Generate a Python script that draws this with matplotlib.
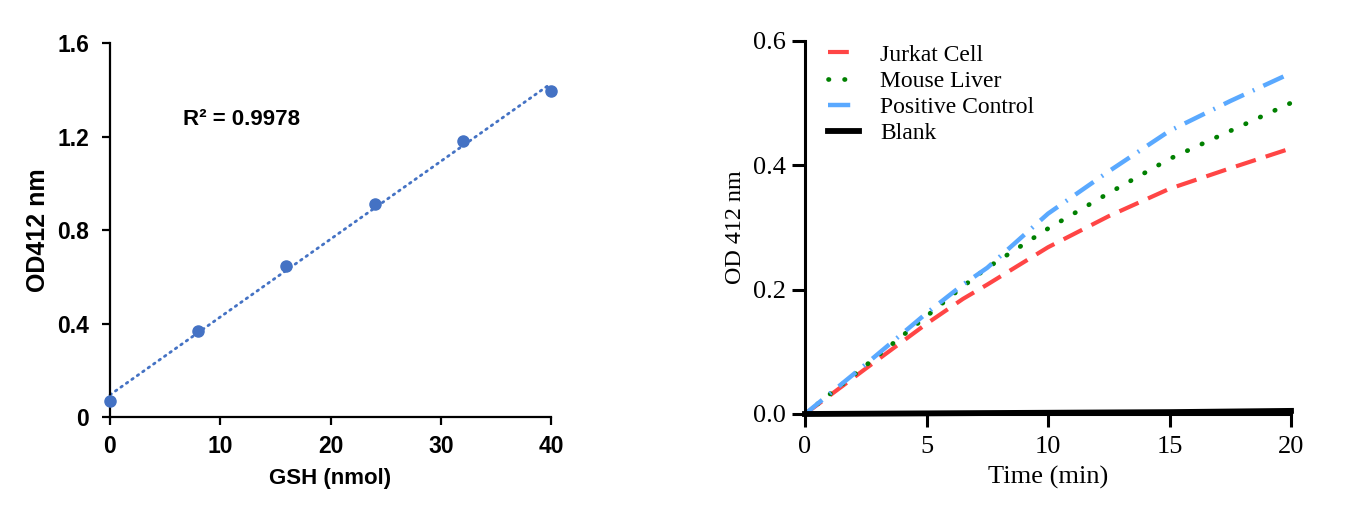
import numpy as np
import matplotlib
matplotlib.use("Agg")
import matplotlib.pyplot as plt
from matplotlib import font_manager as fm

# ---- Left panel data (GSH standard curve) ----
gsh_nmol = [0, 8, 16, 24, 32, 40]
od412_std = [0.068, 0.37, 0.645, 0.91, 1.18, 1.395]
r2_text = "R² = 0.9978"
left_yticks = [0, 0.4, 0.8, 1.2, 1.6]
left_yticklabels = ["0", "0.4", "0.8", "1.2", "1.6"]
left_xticks = [0, 10, 20, 30, 40]

# ---- Right panel data (kinetics) ----
time_min = [0, 2.5, 5, 6.5, 7.5, 10, 12.5, 15, 17.5, 20]
jurkat = [0, 0.073, 0.145, 0.185, 0.208, 0.268, 0.318, 0.362, 0.395, 0.427]
mouse_liver = [0, 0.078, 0.157, 0.205, 0.235, 0.298, 0.355, 0.41, 0.455, 0.5]
positive_ctrl = [0, 0.08, 0.162, 0.208, 0.235, 0.322, 0.39, 0.455, 0.503, 0.548]
blank = [0, 0.0005, 0.001, 0.0013, 0.0015, 0.002, 0.0025, 0.003, 0.004, 0.005]
right_yticks = [0.0, 0.2, 0.4, 0.6]
right_xticks = [0, 5, 10, 15, 20]


def find_font(filename, fallback_family, weight="normal"):
    for f in fm.fontManager.ttflist:
        if f.fname.endswith(filename):
            return {"fname": f.fname}
    return {"family": fallback_family, "weight": weight}


sans_bold_spec = find_font("LiberationSans-Bold.ttf", "Liberation Sans", "bold")
serif_spec = find_font("LiberationSerif-Regular.ttf", "Liberation Serif")


def fp(spec, size):
    return fm.FontProperties(size=size, **spec)


W, H = 1363, 516
fig = plt.figure(figsize=(W / 100, H / 100), dpi=100)

# ---------------- Left panel ----------------
axL = fig.add_axes([110 / W, 1 - 417 / H, (551 - 110) / W, (417 - 43.3) / H])
blue = "#4472C4"
axL.plot(gsh_nmol, od412_std, "o", color=blue, markersize=8, zorder=3, clip_on=False)
coef = np.polyfit(gsh_nmol, od412_std, 1)
xx = np.array([gsh_nmol[0], gsh_nmol[-1]])
axL.plot(xx, np.polyval(coef, xx), color=blue, lw=2, linestyle=(0, (0.6, 1.8)),
         dash_capstyle="round", zorder=2, clip_on=False)
axL.set_xlim(0, 40)
axL.set_ylim(0, 1.6)
axL.set_yticks(left_yticks)
axL.set_yticklabels(left_yticklabels)
axL.set_xticks(left_xticks)
for s in ["top", "right"]:
    axL.spines[s].set_visible(False)
for s in ["left", "bottom"]:
    axL.spines[s].set_linewidth(1.6)
axL.tick_params(axis="both", length=6, width=1.6)
axL.tick_params(axis="y", pad=9)
axL.tick_params(axis="x", pad=7)
for lab in axL.get_xticklabels() + axL.get_yticklabels():
    lab.set_fontproperties(fp(sans_bold_spec, 16.5))
axL.set_xlabel("GSH (nmol)", fontproperties=fp(sans_bold_spec, 16), labelpad=7)
axL.set_ylabel("OD412 nm", fontproperties=fp(sans_bold_spec, 18), labelpad=5)
axL.text(6.6, 1.275, r2_text, fontproperties=fp(sans_bold_spec, 16),
         ha="left", va="center")

# ---------------- Right panel ----------------
axR = fig.add_axes([805 / W, 1 - 414 / H, (1291 - 805) / W, (414 - 40.7) / H])
axR.plot(time_min, jurkat, color="#FF4545", lw=3, linestyle=(0, (5, 2.5)),
         label="Jurkat Cell", clip_on=False)
axR.plot(time_min, mouse_liver, color="#008000", lw=3.4, linestyle=(0, (0.1, 3.3)),
         dash_capstyle="round", label="Mouse Liver", clip_on=False)
axR.plot(time_min, positive_ctrl, color="#5AA9FF", lw=3.2, linestyle=(0, (5, 2.2, 0.4, 2.2)),
         label="Positive Control", clip_on=False)
axR.plot(time_min, blank, color="black", lw=4.2, label="Blank", clip_on=False)
axR.set_xlim(0, 20)
axR.set_ylim(0, 0.6)
axR.set_yticks(right_yticks)
axR.set_yticklabels([f"{v:.1f}" for v in right_yticks])
axR.set_xticks(right_xticks)
for s in ["top", "right"]:
    axR.spines[s].set_visible(False)
for s in ["left", "bottom"]:
    axR.spines[s].set_linewidth(2.2)
axR.tick_params(axis="both", length=9.5, width=2.2)
axR.tick_params(axis="y", pad=4)
axR.tick_params(axis="x", pad=6)
for lab in axR.get_xticklabels() + axR.get_yticklabels():
    lab.set_fontproperties(fp(serif_spec, 19))
axR.set_xlabel("Time (min)", fontproperties=fp(serif_spec, 19), labelpad=6)
axR.set_ylabel("OD 412 nm", fontproperties=fp(serif_spec, 17.3), labelpad=5)
leg = axR.legend(loc="upper left", bbox_to_anchor=(0.028, 1.016), frameon=False,
                 prop=fp(serif_spec, 17),
                 handlelength=1.3, handletextpad=0.9, labelspacing=0.2,
                 borderaxespad=0.0)

fig.savefig("out.png", dpi=100)
